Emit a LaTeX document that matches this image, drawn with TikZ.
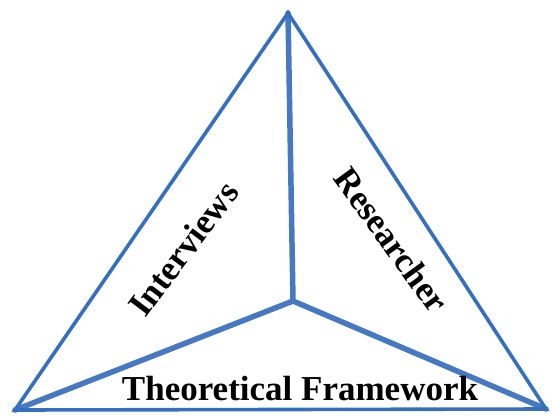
\documentclass[tikz,border=0pt]{standalone}
\usepackage{fontspec}
\setmainfont{Liberation Serif}
\definecolor{edgeblue}{HTML}{3570C0}
\definecolor{spokeblue}{HTML}{4679C2}
\tikzset{
  outeredge/.style={draw=edgeblue, line width=3.6pt, line join=miter},
  spoke/.style={draw=spokeblue, line width=5.5pt, line cap=round},
  label/.style={font=\fontsize{35}{40}\selectfont\bfseries, inner sep=0pt, anchor=base}
}
\begin{document}
\begin{tikzpicture}[x=1pt, y=-1pt]
\useasboundingbox (0,0) rectangle (553,415);
\coordinate (top) at (288,13);
\coordinate (left) at (15,410);
\coordinate (right) at (546,409);
\coordinate (mid) at (293,301);
\draw[spoke] (mid) -- (top);
\draw[spoke] (mid) -- (left);
\draw[spoke] (mid) -- (right);
\draw[outeredge] (top) -- (left) -- (right) -- cycle;
\node[label] (tf) at (300,400) {Theoretical Framework};
\node[label, rotate=53] (iv) at (193,256) {Interviews};
\node[label, rotate=-54] (rs) at (382,247) {Researcher};
\end{tikzpicture}
\end{document}
